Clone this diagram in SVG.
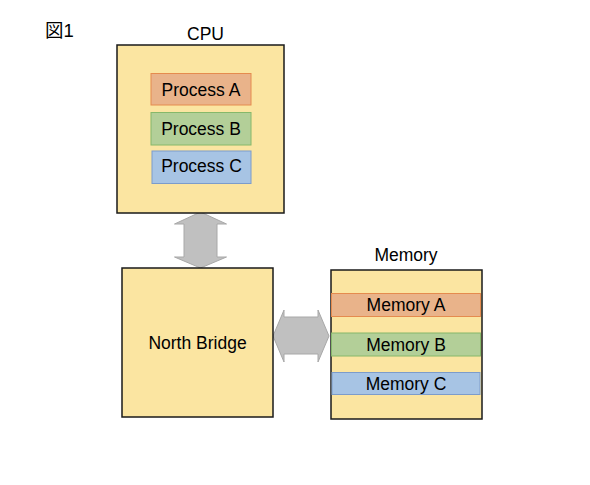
<svg xmlns="http://www.w3.org/2000/svg" width="590" height="485" viewBox="0 0 590 485">
<style>
text{font-family:"Liberation Sans",Arial,"Noto Sans CJK JP",sans-serif;font-size:17.5px;fill:#000;text-anchor:middle;dominant-baseline:central}
.box{fill:#FBE5A1;stroke:#1a1a1a;stroke-width:1.5}
.o{fill:#E9B38A;stroke:#E58B4E;stroke-width:1}
.g{fill:#B3CF98;stroke:#86B86A;stroke-width:1}
.b{fill:#A7C4E4;stroke:#7C9CCB;stroke-width:1}
.arr{fill:#C0C0C0;stroke:#A8A8A8;stroke-width:1}
</style>
<rect width="590" height="485" fill="#fff"/>
<text x="45" y="30" style="text-anchor:start;font-size:18.5px">図1</text>
<g id="connectors">
<polygon class="arr" points="200.5,212 226.5,224 217,224 217,257 226.5,257 200.5,268 174.5,257 184,257 184,224 174.5,224"/>
<polygon class="arr" points="273,336 284,310 284,317 318,317 318,310 329,336 318,362 318,354 284,354 284,362"/>
</g>
<g id="cpu">
<text x="205.5" y="34">CPU</text>
<rect class="box" x="117" y="45" width="167" height="168"/>
</g>
<g id="processA"><rect class="o" x="151" y="73.5" width="100" height="31.5"/><text x="201" y="89.5">Process A</text></g>
<g id="processB"><rect class="g" x="151" y="112.5" width="100" height="32.5"/><text x="201" y="129">Process B</text></g>
<g id="processC"><rect class="b" x="152" y="151" width="99" height="32.5"/><text x="201.5" y="166">Process C</text></g>
<g id="northbridge">
<rect class="box" x="122" y="268" width="151" height="149"/>
<text x="197.5" y="342.5">North Bridge</text>
</g>
<g id="memory">
<text x="406" y="255">Memory</text>
<rect class="box" x="331" y="270" width="151" height="149"/>
</g>
<g id="memoryA"><rect class="o" x="331.5" y="293.5" width="149" height="23"/><text x="406" y="304.5">Memory A</text></g>
<g id="memoryB"><rect class="g" x="331.5" y="333" width="149" height="23"/><text x="406" y="344.5">Memory B</text></g>
<g id="memoryC"><rect class="b" x="332" y="372.5" width="148" height="22"/><text x="406" y="384">Memory C</text></g>
</svg>
